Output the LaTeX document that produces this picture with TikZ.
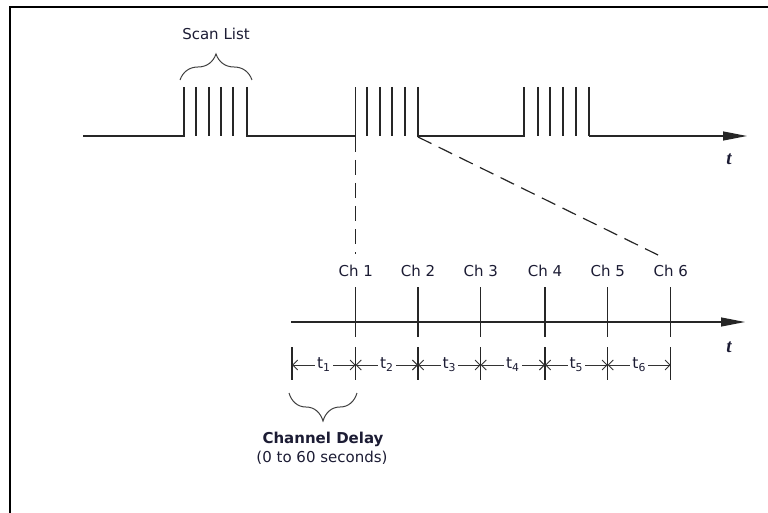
\documentclass[tikz,border=0pt]{standalone}
\usepackage{fontspec}
\setmainfont{DejaVu Sans}
\newfontfamily\tfont{Liberation Serif}
\usetikzlibrary{arrows.meta,decorations.pathreplacing}
\definecolor{txt}{HTML}{1c1c34}
\begin{document}
\begin{tikzpicture}[x=1pt,y=-1pt,
  wave/.style={line width=1.3pt, black!85},
  axisline/.style={line width=1.2pt, black!85, -{Triangle[length=24pt,width=9pt]}},
  dashline/.style={line width=1.2pt, black!85, dash pattern=on 15pt off 8pt},
  tick/.style={line width=1.2pt, black!85},
  dimarrow/.style={line width=0.9pt, black!80, {Straight Barb[length=5pt,width=10pt]}-{Straight Barb[length=5pt,width=10pt]}},
  lbl/.style={font=\fontsize{15}{17}\selectfont, text=txt, inner sep=0pt},
  sublbl/.style={font=\fontsize{15.5}{17}\selectfont, text=txt, fill=white, inner xsep=2pt, inner ysep=0pt},
  tlbl/.style={font=\fontsize{19}{21}\selectfont\tfont\bfseries\itshape, text=txt, inner sep=0pt},
  bracestyle/.style={line width=1pt, black!75, decorate}
]
\useasboundingbox (0,0) rectangle (768,513);
\draw[line width=2pt] (10,513) -- (10,7.5) -- (768,7.5);

% top waveform
\coordinate (w0) at (83,136);
\coordinate (tip1) at (747,136);
\draw[wave] (w0) -- (184,136) -- (184,87);
\foreach \x in {196,209,221,233} \draw[wave] (\x,87) -- (\x,136);
\draw[wave] (247,87) -- (247,136) -- (355.5,136) -- (355.5,87);
\foreach \x in {367,380,392,405} \draw[wave] (\x,87) -- (\x,136);
\draw[wave] (418,87) -- (418,136) -- (524,136) -- (524,87);
\foreach \x in {538,550,563,576} \draw[wave] (\x,87) -- (\x,136);
\draw[wave] (589,87) -- (589,136);
\draw[axisline] (589,136) -- (tip1);
\node[tlbl] (ttop) at (729,159) {t};

% scan list brace
\coordinate (bl) at (180,80);
\coordinate (br) at (252,80);
\draw[bracestyle, decoration={brace, amplitude=26pt}] (bl) -- (br);
\node[lbl] (scan) at (216,34) {Scan List};

% bottom axis
\coordinate (a0) at (291,322);
\coordinate (tip2) at (745,322);
\draw[axisline] (a0) -- (tip2);
\node[tlbl] (tbot) at (729,347) {t};

\foreach \i/\x in {1/355.7,2/418,3/480.7,4/545,5/607.7,6/670.7}{
  \coordinate (k\i) at (\x,287);
  \coordinate (kb\i) at (\x,337);
  \draw[tick] (k\i) -- (kb\i);
  \node[lbl] (ch\i) at (\x,271) {Ch \i};
}

% dashed connectors
\coordinate (p1) at (355.5,137);
\coordinate (q1) at (355.5,254);
\coordinate (p2) at (418,137);
\coordinate (q2) at (658,255);
\draw[dashline] (p1) -- (q1);
\draw[dashline] (p2) -- (q2);

% dimension row
\foreach \i/\x in {0/292,1/355.7,2/418,3/480.7,4/545,5/607.7,6/670.7}{
  \coordinate (d\i) at (\x,365);
  \draw[tick] (\x,347) -- (\x,380);
}
\foreach \i [evaluate=\i as \j using int(\i-1)] in {1,...,6}{
  \draw[dimarrow] (d\j) -- node[sublbl] (tl\i) {t\textsubscript{\i}} (d\i);
}

% channel delay brace
\coordinate (cl) at (289,393);
\coordinate (cr) at (357,393);
\draw[bracestyle, decoration={brace, amplitude=28pt}] (cr) -- (cl);
\node[lbl, font=\fontsize{15}{17}\selectfont\bfseries] (cd) at (323,439) {Channel Delay};
\node[lbl] (secs) at (322,458) {(0 to 60 seconds)};
\end{tikzpicture}
\end{document}
